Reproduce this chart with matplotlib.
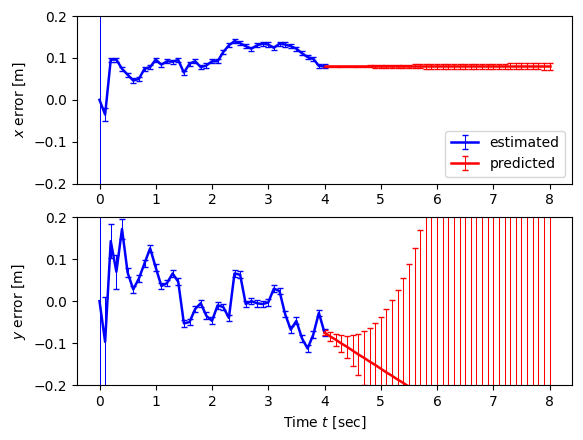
import numpy as np
import matplotlib
matplotlib.use("Agg")
import matplotlib.pyplot as plt

# time stamps
t_est = [round(0.1 * i, 1) for i in range(41)]          # 0.0 .. 4.0
t_pred = [round(4.0 + 0.1 * i, 1) for i in range(41)]   # 4.0 .. 8.0

# x error (estimated)
x_est = [0.0, -0.035, 0.096, 0.096, 0.074, 0.060, 0.046, 0.050, 0.074, 0.078,
         0.096, 0.084, 0.092, 0.091, 0.095, 0.065, 0.086, 0.092, 0.078, 0.082,
         0.092, 0.092, 0.114, 0.130, 0.140, 0.135, 0.128, 0.122, 0.130, 0.134,
         0.132, 0.124, 0.134, 0.132, 0.128, 0.122, 0.111, 0.102, 0.098, 0.081,
         0.080]
x_est_err = [1.0, 0.016] + [0.005] * 39

# x error (predicted)
x_pred = [0.080] * 41
x_pred_err = [0.0005, 0.0007, 0.0009, 0.0011, 0.0013, 0.0015, 0.0017, 0.0019, 0.0021,
              0.0030, 0.0032, 0.0034, 0.0036, 0.0038, 0.0040, 0.0042, 0.0044,
              0.0052, 0.0053, 0.0054, 0.0055, 0.0056, 0.0057, 0.0058, 0.0059,
              0.0060, 0.0061, 0.0062, 0.0063, 0.0064, 0.0065, 0.0066, 0.0067,
              0.0070, 0.0071, 0.0072, 0.0073, 0.0074, 0.0075, 0.0076, 0.0077]

# y error (estimated)
y_est = [0.0, -0.097, 0.143, 0.070, 0.172, 0.068, 0.028, 0.054, 0.090, 0.126,
         0.080, 0.036, 0.043, 0.066, 0.046, -0.053, -0.050, -0.019, -0.005, -0.035,
         -0.047, -0.010, -0.014, -0.040, 0.066, 0.063, -0.007, 0.000, -0.005, -0.007,
         -0.003, 0.030, 0.024, -0.031, -0.068, -0.047, -0.089, -0.113, -0.080, -0.028,
         -0.075]
y_est_err = [1.0, 0.106, 0.040, 0.040, 0.024, 0.010] + [0.008] * 35

# y error (predicted)
y_pred = [-0.075, -0.084, -0.092, -0.101, -0.109, -0.118, -0.127, -0.135, -0.144, -0.152,
          -0.161, -0.170, -0.178, -0.187, -0.195, -0.204, -0.213, -0.221, -0.230, -0.238,
          -0.247, -0.256, -0.264, -0.273, -0.281, -0.290, -0.299, -0.307, -0.316, -0.324,
          -0.333, -0.342, -0.350, -0.359, -0.367, -0.376, -0.385, -0.393, -0.402, -0.410,
          -0.419]
y_pred_err = [0.006, 0.011, 0.014, 0.021, 0.026, 0.037, 0.048, 0.064, 0.079, 0.099,
              0.124, 0.151, 0.180, 0.213, 0.251, 0.292, 0.339, 0.390, 0.445, 0.505,
              0.57, 0.64, 0.72, 0.80, 0.89, 0.99, 1.10, 1.21, 1.33, 1.46,
              1.60, 1.75, 1.91, 2.08, 2.26, 2.45, 2.65, 2.86, 3.08, 3.31, 3.55]

yticks = [-0.2, -0.1, 0.0, 0.1, 0.2]
xticks = [0, 1, 2, 3, 4, 5, 6, 7, 8]

fig, (ax1, ax2) = plt.subplots(2, 1, figsize=(5.83, 4.40), dpi=100)
fig.subplots_adjust(left=77 / 583, right=572 / 583, top=1 - 16 / 440,
                    bottom=1 - 385 / 440, hspace=0.2)

kw = dict(linewidth=1.8, elinewidth=0.75, capsize=2.2, capthick=1.0)
ax1.errorbar(t_est, x_est, yerr=x_est_err, color='b', label='estimated', **kw)
ax1.errorbar(t_pred, x_pred, yerr=x_pred_err, color='r', label='predicted', **kw)
ax1.set_ylim(-0.2, 0.2)
ax1.set_yticks(yticks)
ax1.set_xticks(xticks)
ax1.set_ylabel('$x$ error [m]')
ax1.legend(loc='lower right')

ax2.errorbar(t_est, y_est, yerr=y_est_err, color='b', label='estimated', **kw)
ax2.errorbar(t_pred, y_pred, yerr=y_pred_err, color='r', label='predicted', **kw)
ax2.set_ylim(-0.2, 0.2)
ax2.set_yticks(yticks)
ax2.set_xticks(xticks)
ax2.set_ylabel('$y$ error [m]')
ax2.set_xlabel('Time $t$ [sec]')

fig.savefig('out.png', dpi=100)
